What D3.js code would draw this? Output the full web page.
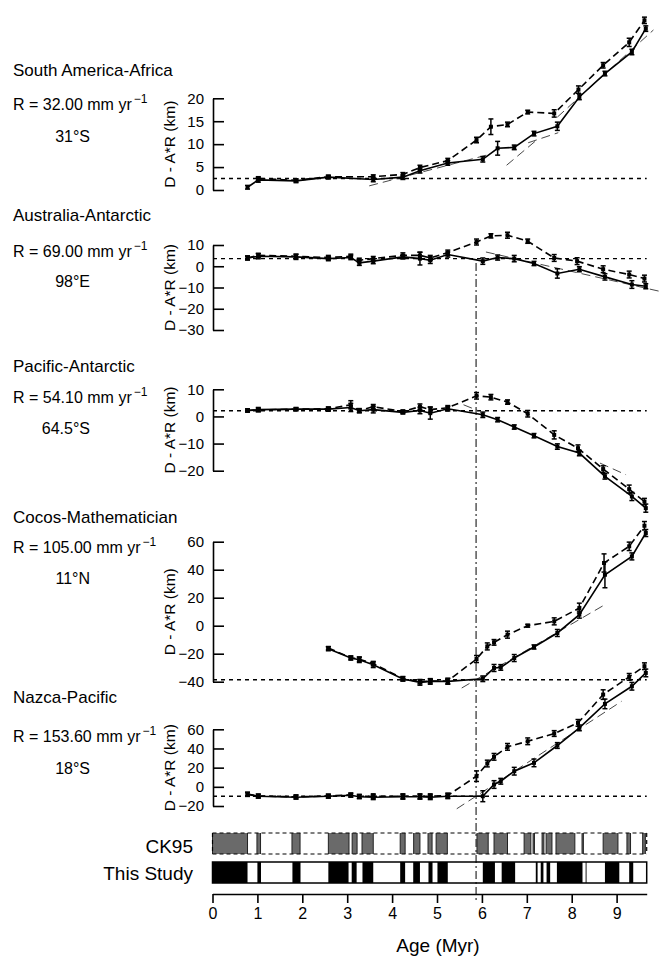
<!DOCTYPE html>
<html><head><meta charset="utf-8">
<script src="https://cdn.jsdelivr.net/npm/d3@7"></script>
<style>
body{margin:0;background:#fff}
svg{display:block}
text{font-family:"Liberation Sans",Arial,Helvetica,sans-serif;fill:#000}
</style>
</head><body>
<svg id="c" width="664" height="958"></svg>
<script>
// ---------------- DATA ----------------
const panelNames = ["South America-Africa","Australia-Antarctic","Pacific-Antarctic","Cocos-Mathematician","Nazca-Pacific"];
const rates = ["32.00","69.00","54.10","105.00","153.60"];
const locations = ["31°S","98°E","64.5°S","11°N","18°S"];
const yTicks = [[0,5,10,15,20],[-30,-20,-10,0,10],[-20,-10,0,10],[-40,-20,0,20,40,60],[-20,0,20,40,60]];
const yDomains = [[0,20],[-30,10],[-20,10],[-40,60],[-20,60]];
const refLevels = [2.5,3.6,2.1,-38.6,-9.8];
const xTicks = [0,1,2,3,4,5,6,7,8,9];
const ageMax = 9.67;
const markerAge = 5.87;

// series: [age, value, error half-width]
const saafSolid = [[0.78,0.6,0.4],[1.02,2.2,0.5],[1.86,2.0,0.4],[2.58,2.8,0.4],[3.58,2.3,0.5],[4.24,2.8,0.5],[4.62,4.2,0.5],[5.24,5.9,0.5],[6.02,6.7,0.6],[6.35,9.1,1.5],[6.72,9.3,0.5],[7.16,12.3,0.5],[7.68,13.9,0.9],[8.17,20.3,0.6],[8.74,25.4,0.5],[9.34,30.1,0.6],[9.65,35.2,0.6]];
const saafDashed = [[1.02,2.5,0.4],[1.86,2.1,0.3],[2.58,2.9,0.3],[3.58,2.9,0.4],[4.24,3.4,0.4],[4.62,4.9,0.5],[5.24,6.4,0.5],[5.88,10.9,0.6],[6.2,13.8,1.7],[6.57,14.3,0.5],[7.02,17.0,0.4],[7.61,16.7,0.8],[8.15,21.9,0.8],[8.70,27.2,0.6],[9.28,32.2,0.9],[9.62,37.0,0.7]];
const ausantSolid = [[0.78,3.9,1.0],[1.02,4.7,1.2],[1.86,4.4,1.2],[2.58,3.6,1.0],[3.08,4.1,1.0],[3.27,1.6,1.2],[3.58,2.4,1.2],[4.24,4.4,1.0],[4.62,3.6,3.0],[4.85,2.8,1.5],[5.24,5.5,1.2],[6.02,2.4,1.5],[6.35,4.1,1.2],[6.72,3.6,1.5],[7.16,1.3,1.0],[7.68,-3.4,2.2],[8.17,-1.4,1.2],[8.74,-5.0,1.5],[9.34,-8.6,1.8],[9.65,-9.4,1.2]];
const ausantDashed = [[0.78,3.9,0.8],[1.02,5.1,1.0],[1.86,4.7,1.0],[2.58,4.1,1.0],[3.08,4.7,1.0],[3.27,2.8,1.0],[3.58,3.6,1.0],[4.24,5.1,1.2],[4.62,5.1,1.5],[4.85,3.9,1.2],[5.24,6.4,1.2],[5.88,11.4,1.4],[6.2,14.3,1.0],[6.57,14.6,1.4],[7.02,11.8,1.0],[7.61,3.9,1.6],[8.12,2.4,1.6],[8.70,-1.4,1.6],[9.28,-3.9,1.6],[9.62,-5.8,1.6]];
const pacantSolid = [[0.78,2.2,0.6],[1.02,2.5,0.8],[1.86,2.7,0.6],[2.58,2.7,0.8],[3.08,3.3,1.5],[3.27,2.1,0.8],[3.58,2.5,1.2],[4.24,1.5,0.6],[4.62,2.2,1.2],[4.85,1.2,2.2],[5.24,2.8,0.8],[6.02,0.6,1.0],[6.35,-1.2,0.8],[6.72,-3.9,0.8],[7.16,-7.1,0.8],[7.68,-11.1,1.0],[8.17,-13.5,1.0],[8.74,-22.1,1.0],[9.34,-29.5,1.5],[9.65,-33.8,1.5]];
const pacantDashed = [[0.78,2.2,0.5],[1.02,2.4,0.6],[1.86,2.7,0.5],[2.58,2.8,0.6],[3.08,4.3,1.5],[3.27,2.1,0.6],[3.58,3.6,0.8],[4.24,1.8,0.6],[4.62,3.6,1.0],[4.85,2.5,1.0],[5.24,3.2,0.8],[5.88,7.6,1.2],[6.2,7.1,1.0],[6.57,5.3,0.8],[7.02,1.0,1.2],[7.61,-6.8,1.5],[8.14,-11.7,1.2],[8.70,-19.4,1.2],[9.28,-26.8,1.5],[9.62,-31.4,1.2]];
const cocmatSolid = [[2.58,-16.4,1.5],[3.08,-23.1,1.5],[3.27,-24.3,2],[3.58,-27.9,2],[4.24,-38.1,1.5],[4.62,-40.5,2],[4.85,-39.8,2],[5.24,-39.8,2],[6.02,-37.9,2],[6.27,-30.2,2.5],[6.42,-29.8,2],[6.72,-23.1,2.5],[7.16,-15.2,1.5],[7.68,-5.2,2.5],[8.17,7.9,2.5],[8.74,36.4,9.3],[9.34,49.5,2.5],[9.65,66.2,2.5]];
const cocmatDashed = [[2.58,-16.0,1],[3.08,-22.8,1],[3.27,-24.0,1.5],[3.58,-27.0,1.5],[4.24,-37.8,1.5],[4.62,-40.0,1.5],[4.85,-39.5,1.5],[5.24,-39.5,2],[5.88,-23.8,2.5],[6.12,-14.8,2.5],[6.27,-11.9,2],[6.57,-6.4,2.5],[7.02,0,1],[7.61,3.1,2.5],[8.17,12.6,3.5],[8.72,44.8,6.5],[9.28,56.7,3],[9.62,71.4,3]];
const nazpacSolid = [[0.78,-8.0,2],[1.02,-9.8,2],[1.86,-10.8,2],[2.58,-9.8,2],[3.08,-8.8,2],[3.27,-10.4,2],[3.58,-10.8,2.5],[4.24,-10.4,2.5],[4.62,-10.4,2.5],[4.85,-10.8,2.5],[5.24,-9.8,2.5],[6.02,-9.8,5.7],[6.27,2.4,4],[6.42,5.8,3],[6.72,16.3,4],[7.16,25.0,4],[7.68,43.1,3],[8.17,61.5,3],[8.74,86.5,5],[9.34,104.9,4],[9.65,118.8,4]];
const nazpacDashed = [[0.78,-7.5,2],[1.02,-9.5,2],[1.86,-10.4,2],[2.58,-9.6,2],[3.08,-8.4,2],[3.27,-9.8,2],[3.58,-9.8,2.5],[4.24,-9.8,2.5],[4.62,-9.8,2.5],[4.85,-9.8,2.5],[5.24,-9.0,2.5],[5.88,11.1,5.5],[6.12,24.3,3.5],[6.27,31.3,3.5],[6.57,41.7,3.5],[7.02,47.5,3.5],[7.61,55.6,3],[8.14,66.7,3.5],[8.70,96.2,5],[9.28,114.7,3.5],[9.62,125.8,3.5]];

// fitted reference segments: [age0, val0, age1, val1]
const saafFits = [[3.49,0.9,6.18,7.8],[6.55,5.4,7.22,10.9],[7.03,10.3,7.7,12.5],[7.68,15.9,9.82,34.9]];
const ausantFits = [[6.09,6.7,9.96,-11.8]];
const pacantFits = [[5.59,4.3,5.92,2.1],[8.63,-17.2,9.21,-21.5]];
const cocmatFits = [[5.55,-44.5,8.70,14.3]];
const nazpacFits = [[5.44,-22.9,9.11,89.2]];

// polarity: normal intervals (Myr)
const ck95Normal = [[0,0.78],[0.99,1.07],[1.77,1.95],[2.58,3.04],[3.11,3.22],[3.33,3.58],[4.18,4.29],[4.48,4.62],[4.80,4.89],[4.98,5.23],[5.89,6.14],[6.27,6.57],[6.94,7.09],[7.14,7.17],[7.34,7.38],[7.43,7.56],[7.65,8.07],[8.23,8.26],[8.70,9.03],[9.23,9.31],[9.58,9.64]];
const thisStudyNormal = [[0,0.78],[1.0,1.08],[1.78,1.96],[2.58,3.03],[3.10,3.21],[3.34,3.58],[4.18,4.29],[4.47,4.62],[4.81,4.90],[5.01,5.24],[6.02,6.29],[6.44,6.74],[7.20,7.24],[7.31,7.37],[7.44,7.52],[7.67,8.24],[8.31,8.33],[8.74,9.06],[9.28,9.37]];

const solids = [saafSolid, ausantSolid, pacantSolid, cocmatSolid, nazpacSolid];
const dashes = [saafDashed, ausantDashed, pacantDashed, cocmatDashed, nazpacDashed];
const fits = [saafFits, ausantFits, pacantFits, cocmatFits, nazpacFits];

// ---------------- LAYOUT ----------------
const layout = [
  {yb:190, yt:98.3, title:76, rate:110, loc:142},
  {yb:330, yt:245, title:221, rate:257, loc:287},
  {yb:470.7, yt:389.3, title:372, rate:403, loc:434},
  {yb:681.7, yt:541.7, title:523, rate:553, loc:584},
  {yb:806, yt:729.3, title:703, rate:742, loc:774}
];
const axisX = 213;
const svg = d3.select("#c");
const x = d3.scaleLinear().domain([0, ageMax]).range([212.5, 646.7]);

const fs = {title:17, rate:16, loc:16, ylab:15.5, tick:15};

layout.forEach((L, i) => {
  const y = d3.scaleLinear().domain(yDomains[i]).range([L.yb, L.yt]);
  const g = svg.append("g");

  // texts
  g.append("text").attr("x", 13).attr("y", L.title).attr("font-size", fs.title).text(panelNames[i]);
  const rt = g.append("text").attr("x", 13).attr("y", L.rate).attr("font-size", fs.rate);
  rt.append("tspan").text("R = " + rates[i] + " mm yr");
  rt.append("tspan").attr("dx", 2).attr("dy", -7).attr("font-size", 12).text("\u22121");
  g.append("text").attr("x", 90).attr("y", L.loc).attr("text-anchor", "end").attr("font-size", fs.loc).text(locations[i]);
  g.append("text").attr("transform", `translate(175,${(L.yb + L.yt) / 2}) rotate(-90)`)
    .attr("text-anchor", "middle").attr("font-size", fs.ylab).text("D - A*R (km)");

  // axis
  const ax = d3.axisLeft(y).tickValues(yTicks[i]).tickSize(-11).tickSizeOuter(0).tickPadding(9).tickFormat(d3.format("d"));
  const ag = g.append("g").attr("transform", `translate(${axisX},0)`).call(ax);
  ag.selectAll("path,line").attr("stroke", "#000").attr("stroke-width", 1.6);
  ag.selectAll("text").attr("font-size", fs.tick).attr("font-family", '"Liberation Sans",Arial,sans-serif');

  // reference level
  g.append("line").attr("x1", axisX).attr("x2", x(ageMax)).attr("y1", y(refLevels[i])).attr("y2", y(refLevels[i]))
    .attr("stroke", "#000").attr("stroke-width", 1.4).attr("stroke-dasharray", "4,4");

  // fit segments
  fits[i].forEach(f => {
    g.append("line").attr("x1", x(f[0])).attr("y1", y(f[1])).attr("x2", x(f[2])).attr("y2", y(f[3]))
      .attr("stroke", "#333").attr("stroke-width", 0.9).attr("stroke-dasharray", "9,5");
  });

  const line = d3.line().x(d => x(d[0])).y(d => y(d[1]));
  const drawSeries = (data, dash) => {
    g.append("path").attr("d", line(data)).attr("fill", "none").attr("stroke", "#000")
      .attr("stroke-width", 1.6).attr("stroke-dasharray", dash);
    data.forEach(d => {
      const cx = x(d[0]), y1 = y(d[1] - d[2]), y2 = y(d[1] + d[2]);
      g.append("line").attr("x1", cx).attr("x2", cx).attr("y1", y1).attr("y2", y2).attr("stroke", "#000").attr("stroke-width", 1.5);
      g.append("line").attr("x1", cx - 2.5).attr("x2", cx + 2.5).attr("y1", y1).attr("y2", y1).attr("stroke", "#000").attr("stroke-width", 1.5);
      g.append("line").attr("x1", cx - 2.5).attr("x2", cx + 2.5).attr("y1", y2).attr("y2", y2).attr("stroke", "#000").attr("stroke-width", 1.5);
      g.append("rect").attr("x", cx - 2).attr("y", y(d[1]) - 2).attr("width", 4).attr("height", 4).attr("fill", "#000");
    });
  };
  drawSeries(dashes[i], "7,4");
  drawSeries(solids[i], null);
});

// vertical dash-dot marker
svg.append("line").attr("x1", x(markerAge)).attr("x2", x(markerAge)).attr("y1", 263).attr("y2", 902)
  .attr("stroke", "#000").attr("stroke-width", 1).attr("stroke-dasharray", "8,3,2,3");

// polarity bars
const ckTop = 833, ckBot = 854, tsTop = 862, tsBot = 883;
const pg = svg.append("g");
pg.selectAll("rect.ck").data(ck95Normal).enter().append("rect")
  .attr("x", d => x(d[0])).attr("width", d => x(d[1]) - x(d[0]))
  .attr("y", ckTop).attr("height", ckBot - ckTop).attr("fill", "#6a6a6a");
ck95Normal.forEach(d => {
  [d[0], d[1]].forEach(a => {
    pg.append("line").attr("x1", x(a)).attr("x2", x(a)).attr("y1", ckTop).attr("y2", ckBot).attr("stroke", "#222").attr("stroke-width", 1);
  });
});
[ckTop, ckBot].forEach(yy => pg.append("line").attr("x1", x(0)).attr("x2", x(ageMax)).attr("y1", yy).attr("y2", yy)
  .attr("stroke", "#000").attr("stroke-width", 1.2).attr("stroke-dasharray", "4,3"));
[0, ageMax].forEach(a => pg.append("line").attr("x1", x(a)).attr("x2", x(a)).attr("y1", ckTop).attr("y2", ckBot)
  .attr("stroke", "#000").attr("stroke-width", 1.2).attr("stroke-dasharray", "4,3"));

pg.selectAll("rect.ts").data(thisStudyNormal).enter().append("rect")
  .attr("x", d => x(d[0])).attr("width", d => x(d[1]) - x(d[0]))
  .attr("y", tsTop).attr("height", tsBot - tsTop).attr("fill", "#000");
pg.append("rect").attr("x", x(0)).attr("y", tsTop).attr("width", x(ageMax) - x(0)).attr("height", tsBot - tsTop)
  .attr("fill", "none").attr("stroke", "#000").attr("stroke-width", 1.5);

pg.append("text").attr("x", 193).attr("y", 853).attr("text-anchor", "end").attr("font-size", 19).text("CK95");
pg.append("text").attr("x", 193).attr("y", 880).attr("text-anchor", "end").attr("font-size", 19).text("This Study");

// x axis
const xa = d3.axisBottom(x).tickValues(xTicks).tickSize(9).tickSizeOuter(0).tickPadding(5).tickFormat(d3.format("d"));
const xg = svg.append("g").attr("transform", "translate(0,894)").call(xa);
xg.selectAll("path,line").attr("stroke", "#000").attr("stroke-width", 1.6);
xg.selectAll("text").attr("font-size", 16).attr("font-family", '"Liberation Sans",Arial,sans-serif');
svg.append("text").attr("x", 438).attr("y", 952).attr("text-anchor", "middle").attr("font-size", 19).text("Age (Myr)");
</script>
</body></html>
